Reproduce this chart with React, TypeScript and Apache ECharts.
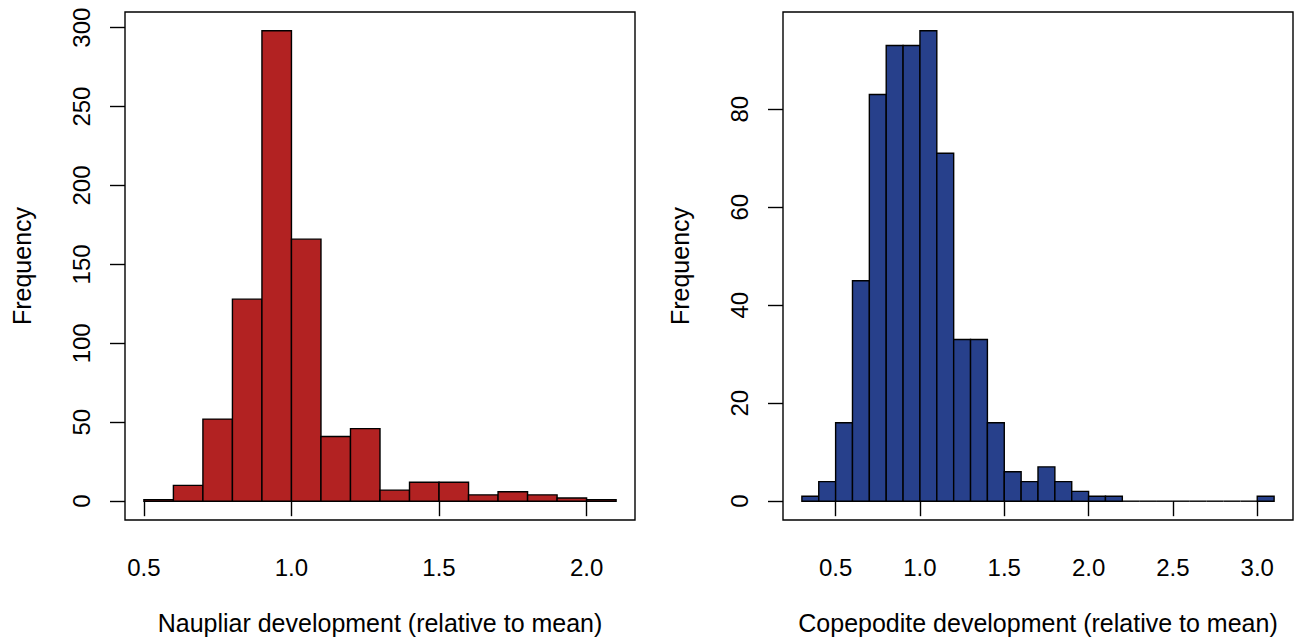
import React, { useEffect, useRef } from "react";
import * as echarts from "echarts";

// Naupliar histogram
const nauBreaks = [0.5, 0.6, 0.7, 0.8, 0.9, 1.0, 1.1, 1.2, 1.3, 1.4, 1.5, 1.6, 1.7, 1.8, 1.9, 2.0, 2.1];
const nauCounts = [1, 10, 52, 128, 298, 166, 41, 46, 7, 12, 12, 4, 6, 4, 2, 1];
const nauXTicks = [0.5, 1.0, 1.5, 2.0];
const nauYTicks = [0, 50, 100, 150, 200, 250, 300];

// Copepodite histogram
const copBreaks = [0.3, 0.4, 0.5, 0.6, 0.7, 0.8, 0.9, 1.0, 1.1, 1.2, 1.3, 1.4, 1.5, 1.6, 1.7, 1.8, 1.9, 2.0, 2.1, 2.2, 2.3, 2.4, 2.5, 2.6, 2.7, 2.8, 2.9, 3.0, 3.1];
const copCounts = [1, 4, 16, 45, 83, 93, 93, 96, 71, 33, 33, 16, 6, 4, 7, 4, 2, 1, 1, 0, 0, 0, 0, 0, 0, 0, 0, 1];
const copXTicks = [0.5, 1.0, 1.5, 2.0, 2.5, 3.0];
const copYTicks = [0, 20, 40, 60, 80];

const nauTitle = "Naupliar development (relative to mean)";
const copTitle = "Copepodite development (relative to mean)";
const yTitle = "Frequency";

const FONT = "'Liberation Sans', Arial, Helvetica, sans-serif";

function ext(lo: number, hi: number) {
  const d = (hi - lo) * 0.04;
  return [lo - d, hi + d];
}

export default function App() {
  const ref = useRef<HTMLDivElement>(null);
  useEffect(() => {
    if (!ref.current) return;
    const chart = echarts.init(ref.current, null, { renderer: "svg" });

    const panels = [
      { breaks: nauBreaks, counts: nauCounts, xt: nauXTicks, yt: nauYTicks, title: nauTitle, color: "#B22222", left: 125 },
      { breaks: copBreaks, counts: copCounts, xt: copXTicks, yt: copYTicks, title: copTitle, color: "#27408B", left: 783 },
    ];

    const grids: any[] = [];
    const xAxes: any[] = [];
    const yAxes: any[] = [];
    const series: any[] = [];

    panels.forEach((p, i) => {
      const [xmin, xmax] = ext(p.breaks[0], p.breaks[p.breaks.length - 1]);
      const [ymin, ymax] = ext(0, Math.max(...p.counts));
      grids.push({
        left: p.left,
        top: 12,
        width: 510,
        height: 508,
        show: true,
        borderColor: "#000",
        borderWidth: 1.4,
        backgroundColor: "transparent",
      });
      xAxes.push({
        type: "value",
        gridIndex: i,
        min: xmin,
        max: xmax,
        axisLine: { show: false },
        splitLine: { show: false },
        axisTick: { show: true, inside: false, length: 15, customValues: p.xt, lineStyle: { color: "#000", width: 1.4 } },
        axisLabel: {
          customValues: p.xt,
          formatter: (v: number) => v.toFixed(1),
          color: "#000",
          fontSize: 24,
          fontFamily: FONT,
          margin: 35,
        },
        name: p.title,
        nameLocation: "middle",
        nameGap: 90,
        nameTextStyle: { color: "#000", fontSize: 25, fontFamily: FONT },
      });
      yAxes.push({
        type: "value",
        gridIndex: i,
        min: ymin,
        max: ymax,
        axisLine: { show: false },
        splitLine: { show: false },
        axisTick: { show: true, inside: false, length: 15, customValues: p.yt, lineStyle: { color: "#000", width: 1.4 } },
        axisLabel: {
          customValues: p.yt,
          formatter: (v: number) => String(Math.round(v)),
          rotate: 90,
          color: "#000",
          fontSize: 24,
          fontFamily: FONT,
          margin: 32,
        },
        name: yTitle,
        nameLocation: "middle",
        nameGap: 91,
        nameTextStyle: { color: "#000", fontSize: 25, fontFamily: FONT },
      });
      const data = p.counts.map((c, k) => [p.breaks[k], p.breaks[k + 1], c]);
      series.push({
        type: "custom",
        xAxisIndex: i,
        yAxisIndex: i,
        data,
        renderItem: (_params: any, api: any) => {
          const x0 = api.value(0);
          const x1 = api.value(1);
          const y = api.value(2);
          const p0 = api.coord([x0, 0]);
          const p1 = api.coord([x1, y]);
          const h = p0[1] - p1[1];
          if (h <= 0.01) {
            return {
              type: "line",
              shape: { x1: p0[0], y1: p0[1], x2: p1[0], y2: p0[1] },
              style: { stroke: "#000", lineWidth: 1.4 },
            };
          }
          return {
            type: "rect",
            shape: { x: p0[0], y: p1[1], width: p1[0] - p0[0], height: h },
            style: { fill: p.color, stroke: "#000", lineWidth: 1.4 },
          };
        },
      });
    });

    chart.setOption({
      animation: false,
      backgroundColor: "#fff",
      grid: grids,
      xAxis: xAxes,
      yAxis: yAxes,
      series,
    });
    return () => chart.dispose();
  }, []);

  return (
    <div
      ref={ref}
      style={{ position: "fixed", left: 0, top: 0, width: 1297, height: 640 }}
    />
  );
}
